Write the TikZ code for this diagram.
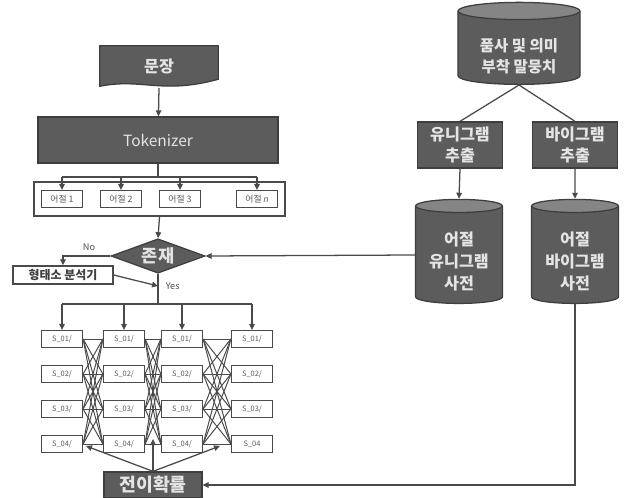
\documentclass[tikz,border=0pt]{standalone}
\usepackage{fontspec}
\setmainfont{Noto Sans CJK KR}
\newfontfamily\latinfont{Liberation Sans}
\usetikzlibrary{shapes.geometric, arrows.meta, positioning, fit, backgrounds}

\definecolor{boxgray}{HTML}{5C5C5C}
\definecolor{edgegray}{HTML}{3E3E3E}
\definecolor{linegray}{HTML}{4A4A4A}
\definecolor{txtlight}{HTML}{E4E4E4}

% lowered multi-line text for the cylinders
\newcommand{\dbtext}[2]{\raisebox{#1}[0pt][0pt]{\begin{tabular}{@{}c@{}}#2\end{tabular}}}

\begin{document}
\begin{tikzpicture}[
        x=0.025cm, y=0.025cm,
        % Dark process blocks: gray fill, light text
        proc/.style = {rectangle, draw=edgegray, fill=boxgray, line width=0.9pt,
                       text=txtlight, align=center, inner sep=0pt},
        % Databases: gray cylinders
        db/.style = {cylinder, shape border rotate=90, aspect=0.22, draw=edgegray, line width=0.9pt,
                     cylinder uses custom fill, cylinder body fill=boxgray, cylinder end fill=boxgray!75,
                     text=txtlight, inner sep=0pt},
        % Small white token boxes
        tokbox/.style = {rectangle, draw=linegray, fill=white, line width=1pt, inner sep=0pt,
                         minimum width=1.02cm, minimum height=0.42cm, text=black!65},
        % Connectors
        line/.style = {draw=linegray, line width=0.9pt},
        arrow/.style = {draw=linegray, line width=0.9pt, -{Triangle[length=1.5mm, width=1.4mm]}},
        thin_line/.style = {draw=linegray, line width=0.7pt}
    ]
    \useasboundingbox (0,0) rectangle (625,-498);

    % --- Left column: sentence and tokenizer ---
    \node[minimum width=2.95cm, minimum height=1.0cm, inner sep=0pt, text=txtlight,
          font=\fontsize{11.5}{13}\selectfont\bfseries] (sent) at (159,-66) {문장};
    \begin{scope}[on background layer]
        \fill[boxgray, draw=edgegray, line width=0.9pt] (sent.north west) -- (sent.north east)
            -- ([yshift=5pt]sent.south east) .. controls ([xshift=-40pt, yshift=-6pt]sent.south east)
            and ([xshift=30pt, yshift=6pt]sent.south west) .. (sent.south west) -- cycle;
    \end{scope}
    \node[proc, minimum width=6.0cm, minimum height=1.15cm, font=\fontsize{11}{13}\selectfont]
          (tok) at (158,-140) {Tokenizer};

    % --- Eojeol boxes ---
    \node[tokbox, font=\fontsize{6.3}{7}\selectfont] (ej1) at (62,-199) {어절 1};
    \node[tokbox, font=\fontsize{6.3}{7}\selectfont] (ej2) at (121,-199) {어절 2};
    \node[tokbox, font=\fontsize{6.3}{7}\selectfont] (ej3) at (180,-199) {어절 3};
    \node[tokbox, font=\fontsize{6.3}{7}\selectfont] (ejn) at (257,-199) {어절 {\latinfont\itshape n}};
    \node[rectangle, draw=linegray, line width=1.2pt, inner xsep=0.17cm, inner ysep=0.2cm,
          fit=(ej1) (ejn)] (ej_frame) {};
    \coordinate (bus1) at (158,-177);

    % --- Decision and morphological analyser ---
    \node[diamond, aspect=2.8, draw=edgegray, fill=boxgray, line width=0.9pt, inner sep=0pt,
          minimum width=2.35cm, minimum height=0.86cm, text=txtlight,
          font=\fontsize{12.5}{14}\selectfont\bfseries] (exist) at (158,-256) {존재};
    \node[tokbox, minimum width=2.5cm, minimum height=0.45cm, text=black!75,
          font=\fontsize{8.5}{10}\selectfont\bfseries] (morph) at (63,-275) {형태소 분석기};
    \coordinate (yes) at (158,-286);
    \coordinate (bus2) at (158,-304);

    % --- State lattice ---
    \foreach \c/\x in {1/62, 2/124, 3/182, 4/252}
        \foreach \r/\y in {1/-339, 2/-374, 3/-409, 4/-444}
            \node[tokbox, font=\fontsize{5.3}{6}\selectfont] (s\c\r) at (\x,\y) {S\_0\r/};
    \node[tokbox, fill=white, font=\fontsize{5.3}{6}\selectfont] at (s44) {S\_04};

    \node[proc, minimum width=2.45cm, minimum height=0.65cm, font=\fontsize{13}{15}\selectfont\bfseries]
          (trans) at (153,-485) {전이확률};
    \coordinate (gap1) at (86,-446);
    \coordinate (gap2) at (153,-439);
    \coordinate (gap3) at (220,-446);

    % --- Right column: corpus and dictionaries ---
    \node[db, minimum width=3.05cm, minimum height=2.05cm, font=\fontsize{11}{15}\selectfont\bfseries]
          (corpus) at (519,-48) {\dbtext{-10pt}{품사 및 의미\\부착 말뭉치}};
    \node[proc, minimum width=2.12cm, minimum height=1.15cm, font=\fontsize{11.5}{15}\selectfont\bfseries]
          (uni) at (460,-145) {유니그램\\추출};
    \node[proc, minimum width=2.12cm, minimum height=1.15cm, font=\fontsize{11.5}{15}\selectfont\bfseries]
          (bi) at (575,-145) {바이그램\\추출};
    \node[db, minimum width=2.17cm, minimum height=2.6cm, font=\fontsize{11.5}{15.5}\selectfont\bfseries]
          (unidic) at (459,-255) {\dbtext{-9pt}{어절\\유니그램\\사전}};
    \node[db, minimum width=2.17cm, minimum height=2.6cm, font=\fontsize{11.5}{15.5}\selectfont\bfseries]
          (bidic) at (575,-255) {\dbtext{-9pt}{어절\\바이그램\\사전}};

    % --- Edges ---
    \draw[arrow] (sent.south |- 0,-88) -- (tok);
    \draw[line] (tok.south) -- (bus1);
    \draw[line] (ej1.north |- bus1) -- (ejn.north |- bus1);
    \foreach \e in {ej1, ej2, ej3, ejn}
        \draw[arrow] (\e.north |- bus1) -- (\e.north);
    \draw[arrow] (ej_frame.south) -- (exist.north);

    \draw[arrow] (exist.west) -- node[above, pos=0.45, text=black!70, font=\fontsize{6.5}{7}\selectfont] {No}
        (morph.north |- exist.west) -- (morph.north);
    \draw[arrow] (morph.east) -- (yes);
    \node[right=2pt of yes, text=black!70, font=\fontsize{6.5}{7}\selectfont] {Yes};
    \draw[line] (exist.south) -- (bus2);
    \draw[line] (s11.north |- bus2) -- (s41.north |- bus2);
    \foreach \c in {1,...,4}
        \draw[arrow] (s\c1.north |- bus2) -- (s\c1.north);

    % Full transitions between neighbouring columns
    \foreach \c/\n in {1/2, 2/3, 3/4}
        \foreach \a in {1,...,4}
            \foreach \b in {1,...,4}
                \draw[thin_line] (s\c\a.east) -- (s\n\b.west);

    \draw[arrow] (trans.north) -- (gap1);
    \draw[arrow] (trans.north) -- (gap2);
    \draw[arrow] (trans.north) -- (gap3);

    \draw[line] (corpus.south) -- (uni.north);
    \draw[line] (corpus.south) -- (bi.north);
    \draw[arrow] (uni.south) -- (unidic.north);
    \draw[arrow] (bi.south) -- (bidic.north);
    \draw[arrow] (unidic.west) -- (exist.east);
    \draw[arrow] (bidic.south) |- (trans.east);

\end{tikzpicture}
\end{document}
